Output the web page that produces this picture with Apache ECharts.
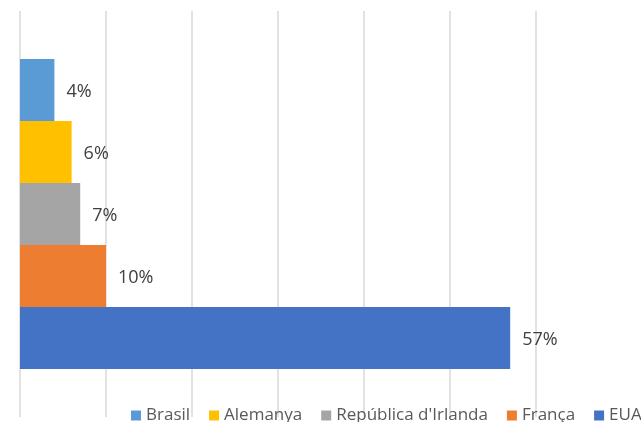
<!DOCTYPE html>
<html>
<head>
<meta charset="utf-8">
<script src="https://cdn.jsdelivr.net/npm/echarts@6/dist/echarts.min.js"></script>
<style>
html,body{margin:0;padding:0;background:#fff;}
#chart{width:641px;height:422px;}
</style>
</head>
<body>
<div id="chart"></div>
<script>
var categories = ['Share'];
var seriesNames = ['Brasil', 'Alemanya', "República d'Irlanda", 'França', 'EUA'];
var seriesValues = [4, 6, 7, 10, 57];
var seriesColors = ['#5B9BD5', '#FFC000', '#A5A5A5', '#ED7D31', '#4472C4'];
var axisTicks = [0, 10, 20, 30, 40, 50, 60];

var chart = echarts.init(document.getElementById('chart'));
var series = seriesNames.map(function (name, i) {
  return {
    name: name,
    type: 'bar',
    data: [seriesValues[i]],
    barWidth: 62,
    barGap: '0%',
    itemStyle: { color: seriesColors[i] },
    label: {
      show: true,
      position: 'right',
      distance: 12,
      offset: [0, 2],
      formatter: '{c}%',
      color: '#404040',
      fontSize: 18,
      fontFamily: 'Open Sans'
    }
  };
});
chart.setOption({
  animation: false,
  backgroundColor: '#ffffff',
  grid: { left: 20, right: 105, top: 11, bottom: 5, containLabel: false },
  xAxis: {
    type: 'value',
    min: axisTicks[0],
    max: axisTicks[axisTicks.length - 1],
    interval: axisTicks[1] - axisTicks[0],
    axisLabel: { show: false },
    axisLine: { show: false },
    axisTick: { show: false },
    splitLine: { show: true, lineStyle: { color: '#D9D9D9', width: 1.5 } }
  },
  yAxis: {
    type: 'category',
    data: categories,
    axisLabel: { show: false },
    axisLine: { show: false },
    axisTick: { show: false }
  },
  legend: {
    data: seriesNames,
    left: 126,
    top: 402,
    width: 800,
    icon: 'rect',
    itemWidth: 10,
    itemHeight: 10,
    itemGap: 19,
    textStyle: { color: '#595959', fontSize: 17, fontFamily: 'Open Sans' }
  },
  series: series
});
</script>
</body>
</html>
